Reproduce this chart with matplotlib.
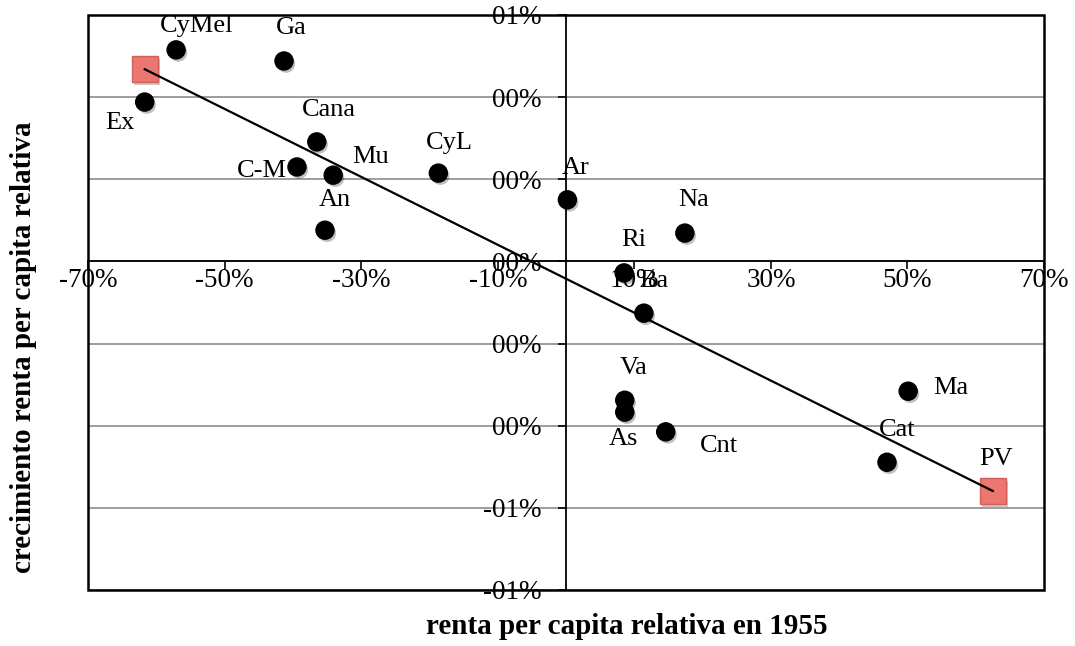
import matplotlib.pyplot as plt
import matplotlib.patheffects as pe
from matplotlib.patches import Rectangle

plt.rcParams['font.family'] = ['Liberation Serif', 'DejaVu Serif']

# regiones: renta relativa 1955 (x) y crecimiento relativo (y)
regiones = ['CyMel', 'Ga', 'Ex', 'Cana', 'C-M', 'Mu', 'An', 'CyL', 'Ar', 'Na',
            'Ri', 'Ba', 'Va', 'As', 'Cnt', 'Ma', 'Cat']
renta = [-0.571, -0.413, -0.617, -0.365, -0.394, -0.341, -0.353, -0.187, 0.002, 0.174,
         0.085, 0.114, 0.086, 0.086, 0.146, 0.501, 0.470]
crec = [0.00515, 0.00488, 0.00388, 0.00291, 0.00230, 0.00210, 0.00076, 0.00215, 0.00150, 0.00069,
        -0.00028, -0.00126, -0.00338, -0.00367, -0.00415, -0.00316, -0.00489]
# desplazamiento de las etiquetas (puntos)
off_x = [15, 5, -18, 9, -25, 27, 7, 8, 6, 6, 7, 7, 6, -1, 38, 31, 7]
off_y = [17, 24, -15, 23, -3, 13, 22, 22, 23, 24, 24, 23, 23, -19, -10, 2, 23]

# tendencia (extremos con marcador cuadrado)
tend_x = [-0.617, 0.625]
tend_y = [0.00468, -0.00559]

yticks = [-0.008, -0.006, -0.004, -0.002, 0.0, 0.002, 0.004, 0.006]
ylabels = ['-01%', '-01%', '00%', '00%', '00%', '00%', '00%', '01%']
xticks = [-0.7, -0.5, -0.3, -0.1, 0.1, 0.3, 0.5, 0.7]
xlabels = ['-70%', '-50%', '-30%', '-10%', '10%', '30%', '50%', '70%']

fig = plt.figure(figsize=(10.75, 6.46), dpi=100)
ax = fig.add_axes([0.0819, 0.0867, 0.8893, 0.8901])
ax.set_xlim(-0.7, 0.7)
ax.set_ylim(-0.008, 0.006)

ax.set_yticks(yticks)
ax.set_yticklabels(ylabels)
ax.set_xticks(xticks)
ax.set_xticklabels(xlabels)
ax.tick_params(labelsize=19.5, length=6, width=1.2)
ax.tick_params(axis='y', pad=12)
ax.tick_params(axis='x', pad=-1)
ax.grid(axis='y', color='#8c8c8c', lw=1.2)
ax.set_axisbelow(True)

for s in ['top', 'right']:
    ax.spines[s].set_visible(False)
ax.spines['left'].set_position(('data', 0))
ax.spines['bottom'].set_position(('data', 0))
ax.spines['left'].set_linewidth(1.3)
ax.spines['bottom'].set_linewidth(1.3)
ax.add_patch(Rectangle((0, 0), 1, 1, transform=ax.transAxes, fill=False,
                       lw=1.8, ec='black', zorder=5, clip_on=False))

sombra = [pe.SimplePatchShadow(offset=(1.5, -2), alpha=0.25), pe.Normal()]
ax.plot(renta, crec, 'o', color='black', ms=13, zorder=6, path_effects=sombra)

ax.plot(tend_x, tend_y, color='black', lw=1.6, zorder=7)
ax.plot(tend_x, tend_y, 's', ms=19, mfc='#ec7670', mec='#d0615b', mew=1,
        zorder=6, path_effects=sombra)

for nom, x, y, dx, dy in zip(regiones, renta, crec, off_x, off_y):
    ax.annotate(nom, (x, y), xytext=(dx, dy), textcoords='offset points',
                ha='center', va='center', fontsize=19, zorder=8)
ax.annotate('PV', (tend_x[1], tend_y[1]), xytext=(2, 23), textcoords='offset points',
            ha='center', va='center', fontsize=19, zorder=8)

fig.text(627 / 1075, 1 - 627 / 646, 'renta per capita relativa en 1955',
         ha='center', va='center', fontsize=21, fontweight='bold')
fig.text(24 / 1075, 1 - 347 / 646, 'crecimiento renta per capita relativa',
         ha='center', va='center', fontsize=21, fontweight='bold', rotation=90)

fig.savefig('out.png', dpi=100)
